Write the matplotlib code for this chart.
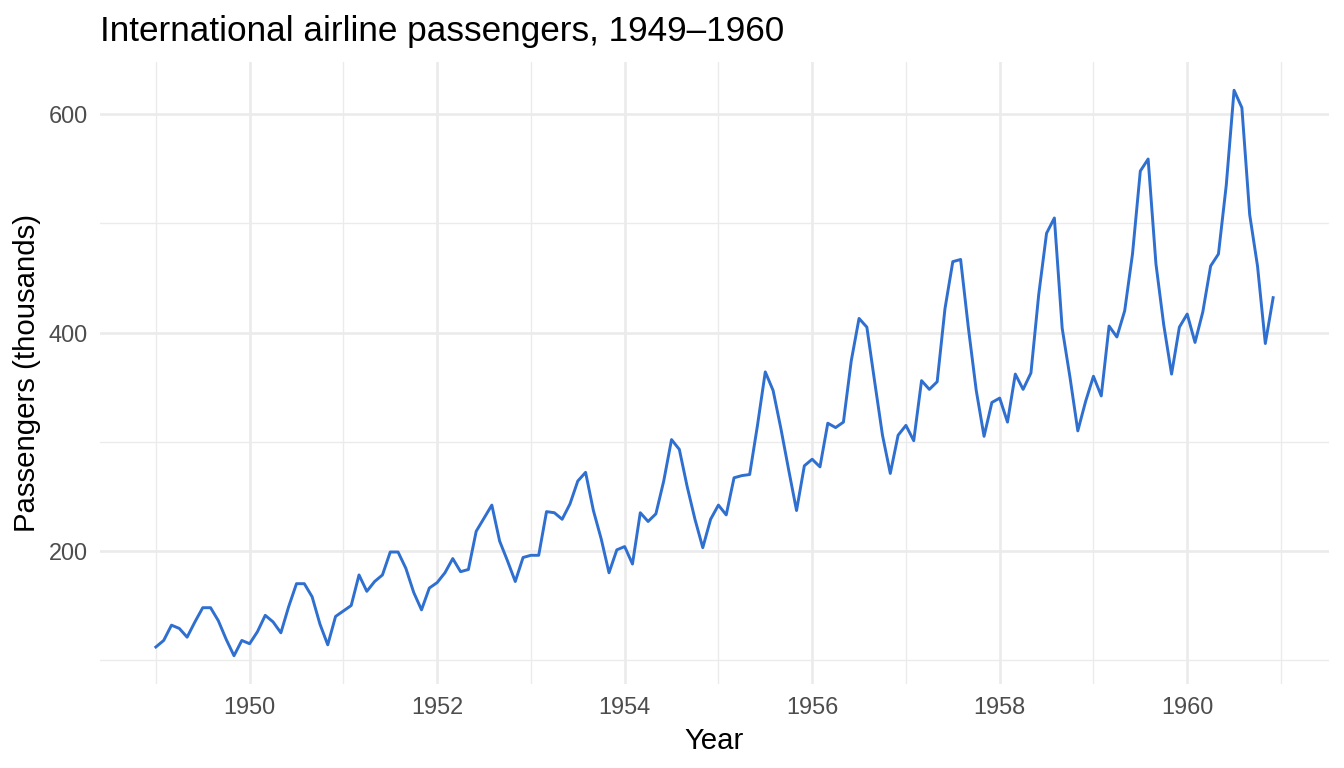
import numpy as np
import matplotlib.pyplot as plt

plt.rcParams['font.family'] = ['Liberation Sans', 'DejaVu Sans']

# Monthly international airline passengers (thousands), 1949-1960
years = list(range(1949, 1961))
passengers = [
    112, 118, 132, 129, 121, 135, 148, 148, 136, 119, 104, 118,
    115, 126, 141, 135, 125, 149, 170, 170, 158, 133, 114, 140,
    145, 150, 178, 163, 172, 178, 199, 199, 184, 162, 146, 166,
    171, 180, 193, 181, 183, 218, 230, 242, 209, 191, 172, 194,
    196, 196, 236, 235, 229, 243, 264, 272, 237, 211, 180, 201,
    204, 188, 235, 227, 234, 264, 302, 293, 259, 229, 203, 229,
    242, 233, 267, 269, 270, 315, 364, 347, 312, 274, 237, 278,
    284, 277, 317, 313, 318, 374, 413, 405, 355, 306, 271, 306,
    315, 301, 356, 348, 355, 422, 465, 467, 404, 347, 305, 336,
    340, 318, 362, 348, 363, 435, 491, 505, 404, 359, 310, 337,
    360, 342, 406, 396, 420, 472, 548, 559, 463, 407, 362, 405,
    417, 391, 419, 461, 472, 535, 622, 606, 508, 461, 390, 432,
]
x_major = [1950, 1952, 1954, 1956, 1958, 1960]
x_minor = [1949, 1951, 1953, 1955, 1957, 1959, 1961]
y_major = [200, 400, 600]
y_minor = [100, 300, 500]

time = np.array([y + m / 12 for y in years for m in range(12)])
values = np.array(passengers)

fig = plt.figure(figsize=(7, 4), dpi=192)
ax = fig.add_axes([100 / 1344, 84 / 768, 1229 / 1344, 622 / 768])

ax.plot(time, values, color='#2F6FD0', lw=1.1, zorder=3)

# ggplot-style expansion of 5%
xr = time.max() - time.min()
yr = values.max() - values.min()
ax.set_xlim(time.min() - 0.05 * xr, time.max() + 0.05 * xr)
ax.set_ylim(values.min() - 0.05 * yr, values.max() + 0.05 * yr)

ax.set_xticks(x_major)
ax.set_xticks(x_minor, minor=True)
ax.set_yticks(y_major)
ax.set_yticks(y_minor, minor=True)
ax.grid(which='major', color='#EBEBEB', lw=1.0)
ax.grid(which='minor', color='#EBEBEB', lw=0.5)
ax.set_axisbelow(True)
for s in ax.spines.values():
    s.set_visible(False)
ax.tick_params(which='both', length=0, labelsize=8.8, labelcolor='#4D4D4D', pad=4.5)

ax.set_xlabel('Year', fontsize=11, labelpad=3)
ax.set_ylabel('Passengers (thousands)', fontsize=11, labelpad=3)
fig.text(100 / 1344, 1 - 41 / 768, 'International airline passengers, 1949\u20131960',
         fontsize=13.2, ha='left', va='baseline')

fig.savefig('out.png', dpi=192)
